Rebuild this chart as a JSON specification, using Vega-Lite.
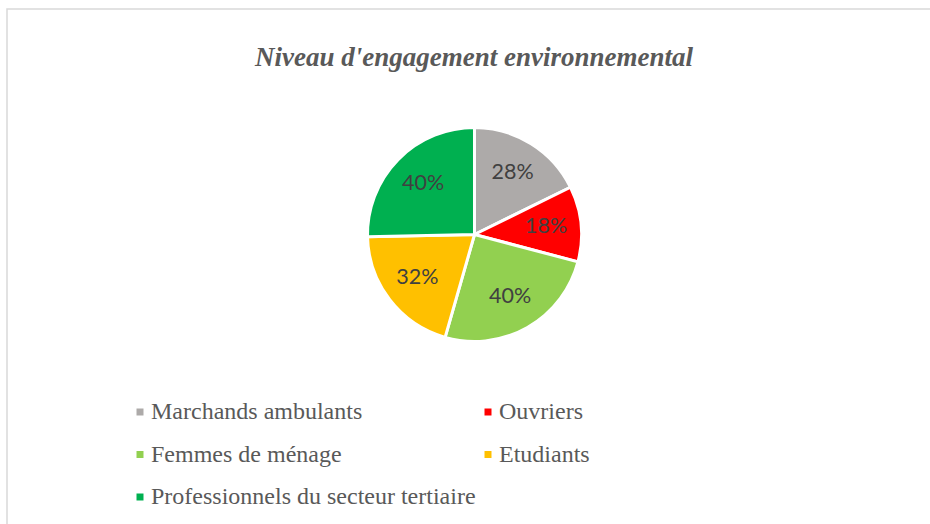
{
  "$schema": "https://vega.github.io/schema/vega-lite/v6.json",
  "width": 940,
  "height": 530,
  "autosize": {"type": "none"},
  "padding": {"left": 7, "top": 9, "right": 0, "bottom": 0},
  "background": "white",
  "view": {"stroke": "#d9d9d9", "strokeWidth": 1.5},
  "config": {
    "view": {"stroke": "#d9d9d9", "strokeWidth": 1.5}
  },
  "title": {
    "text": "Niveau d'engagement environnemental",
    "font": "Liberation Serif",
    "fontSize": 27,
    "fontStyle": "italic",
    "fontWeight": "bold",
    "color": "#595959",
    "anchor": "middle",
    "frame": "group",
    "orient": "top",
    "baseline": "alphabetic",
    "offset": -84,
    "dx": -3
  },
  "data": {
    "values": [
      {"category": "Marchands ambulants", "value": 28, "rank": 1},
      {"category": "Ouvriers", "value": 18, "rank": 2},
      {"category": "Femmes de ménage", "value": 40, "rank": 3},
      {"category": "Etudiants", "value": 32, "rank": 4},
      {"category": "Professionnels du secteur tertiaire", "value": 40, "rank": 5}
    ]
  },
  "transform": [{"calculate": "datum.value + '%'", "as": "label"}],
  "encoding": {
    "theta": {"field": "value", "type": "quantitative", "stack": true},
    "order": {"field": "rank", "type": "quantitative"}
  },
  "layer": [
    {
      "mark": {"type": "arc", "outerRadius": 107, "stroke": "white", "strokeWidth": 3, "xOffset": -2.5, "yOffset": -39.5},
      "encoding": {
        "color": {
          "field": "category",
          "type": "nominal",
          "scale": {
            "domain": ["Marchands ambulants", "Ouvriers", "Femmes de ménage", "Etudiants", "Professionnels du secteur tertiaire"],
            "range": ["#ADAAA9", "#FF0000", "#92D050", "#FFC000", "#00B050"]
          },
          "legend": {
            "title": null,
            "orient": "none",
            "legendX": 121,
            "legendY": 391,
            "direction": "horizontal",
            "columns": 2,
            "columnPadding": -1,
            "rowPadding": 18.5,
            "padding": 0,
            "symbolType": "square",
            "symbolSize": 49,
            "symbolStrokeWidth": 0,
            "labelOffset": -1,
            "labelFont": "Liberation Serif",
            "labelFontSize": 24,
            "labelColor": "#595959",
            "labelLimit": 600
          }
        }
      }
    },
    {
      "mark": {"type": "text", "radius": 72, "font": "Lato", "fontSize": 21.5, "color": "#404040", "xOffset": -2.5, "yOffset": -39.5},
      "encoding": {"text": {"field": "label", "type": "nominal"}}
    }
  ]
}
